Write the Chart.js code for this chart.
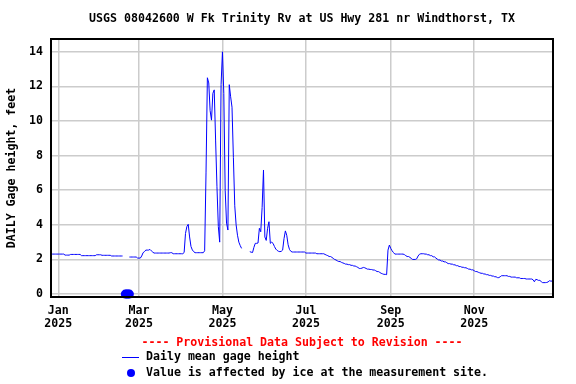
<!DOCTYPE html>
<html>
<head>
<meta charset="utf-8">
<script src="https://cdn.jsdelivr.net/npm/chart.js@4"></script>
<style>
  html, body { margin: 0; padding: 0; background: #fff; }
</style>
</head>
<body>
<canvas id="gageChart" width="576" height="384"></canvas>
<script>
// Day numbers are counted from Jan 1 2025 (= 0)
const firstDay = -5;

// Daily mean gage height (feet), one value per day starting Dec 27 2024
const gageHeight = [
  // Dec 27-31 2024
  2.31, 2.31, 2.31, 2.31, 2.31,
  // Jan
  2.31, 2.31, 2.31, 2.31, 2.31, 2.25, 2.25, 2.25, 2.25, 2.29, 2.29, 2.29, 2.29, 2.29, 2.29, 2.29,
  2.29, 2.22, 2.22, 2.22, 2.22, 2.22, 2.22, 2.22, 2.22, 2.22, 2.22, 2.22, 2.27, 2.27, 2.27,
  // Feb
  2.27, 2.24, 2.24, 2.24, 2.24, 2.24, 2.24, 2.24, 2.2, 2.2, 2.2, 2.2, 2.2, 2.2, 2.2, 2.2, 2.2,
  null, null, null, null, 2.14, 2.14, 2.14, 2.14, 2.14, 2.14, 2.08,
  // Mar
  2.08, 2.08, 2.2, 2.39, 2.45, 2.54, 2.54, 2.54, 2.58, 2.5, 2.43, 2.37, 2.37, 2.37, 2.37, 2.37,
  2.37, 2.37, 2.37, 2.37, 2.37, 2.37, 2.37, 2.39, 2.39, 2.33, 2.33, 2.33, 2.33, 2.33, 2.33,
  // Apr
  2.33, 2.33, 2.4, 3.5, 3.9, 4.03, 3.3, 2.75, 2.55, 2.45, 2.39, 2.39, 2.39, 2.39, 2.39,
  2.39, 2.39, 2.5, 7.0, 12.5, 12.2, 10.6, 10.05, 11.6, 11.8, 8.9, 6.2, 3.9, 3.0, 12.1,
  // May
  14.0, 11.6, 6.0, 4.1, 3.7, 12.1, 11.4, 10.8, 7.9, 5.1, 4.0, 3.4, 3.0, 2.8, 2.64,
  null, null, null, null, null, 2.45, 2.42, 2.4, 2.7, 2.93, 2.93, 2.95, 3.8, 3.6, 5.0, 7.17,
  // Jun
  3.3, 3.1, 3.8, 4.18, 2.93, 3.0, 2.93, 2.75, 2.6, 2.52, 2.47, 2.45, 2.47, 2.54, 3.2,
  3.65, 3.4, 2.85, 2.58, 2.47, 2.43, 2.43, 2.43, 2.43, 2.43, 2.43, 2.43, 2.43, 2.43, 2.43,
  // Jul
  2.37, 2.37, 2.37, 2.37, 2.37, 2.37, 2.37, 2.37, 2.33, 2.33, 2.33, 2.33, 2.33, 2.33, 2.29, 2.25,
  2.22, 2.17, 2.17, 2.12, 2.06, 2.0, 1.97, 1.92, 1.88, 1.88, 1.83, 1.8, 1.77, 1.73, 1.73,
  // Aug
  1.7, 1.7, 1.66, 1.66, 1.62, 1.62, 1.58, 1.54, 1.48, 1.48, 1.5, 1.54, 1.52, 1.48, 1.44, 1.44,
  1.42, 1.42, 1.39, 1.39, 1.35, 1.3, 1.3, 1.25, 1.2, 1.17, 1.14, 1.14, 1.12, 2.54, 2.83,
  // Sep
  2.64, 2.5, 2.4, 2.31, 2.31, 2.31, 2.31, 2.31, 2.31, 2.31, 2.28, 2.22, 2.17, 2.17, 2.12,
  2.06, 2.0, 2.0, 2.0, 2.04, 2.2, 2.3, 2.33, 2.33, 2.33, 2.31, 2.31, 2.27, 2.27, 2.22,
  // Oct
  2.22, 2.15, 2.15, 2.08, 2.02, 1.97, 1.97, 1.91, 1.91, 1.86, 1.86, 1.81, 1.76, 1.76, 1.73, 1.73,
  1.69, 1.69, 1.64, 1.64, 1.59, 1.59, 1.55, 1.55, 1.52, 1.52, 1.48, 1.44, 1.44, 1.4, 1.4,
  // Nov
  1.35, 1.3, 1.3, 1.26, 1.23, 1.2, 1.2, 1.16, 1.16, 1.12, 1.12, 1.08, 1.08, 1.04, 1.04,
  1.0, 1.0, 0.95, 0.95, 1.0, 1.06, 1.06, 1.06, 1.06, 1.06, 1.02, 1.02, 0.98, 0.98, 0.98,
  // Dec
  0.98, 0.94, 0.94, 0.94, 0.9, 0.9, 0.9, 0.9, 0.87, 0.87, 0.87, 0.87, 0.87, 0.83,
  0.71, 0.85, 0.83, 0.79, 0.79, 0.72, 0.66, 0.66, 0.66, 0.67, 0.7, 0.77, 0.75, 0.75
];

// Days flagged as ice-affected (plotted at zero)
const iceDays = [49, 50, 51, 52];
const iceValues = [0, 0, 0, 0];

// Tick positions and labels
const monthTicks = [0, 59, 120, 181, 243, 304];
const monthNames = ['Jan', 'Mar', 'May', 'Jul', 'Sep', 'Nov'];
const yearLabel = '2025';
const heightTicks = [0, 2, 4, 6, 8, 10, 12, 14];

const titleText = 'USGS 08042600 W Fk Trinity Rv at US Hwy 281 nr Windthorst, TX';
const provisionalText = '---- Provisional Data Subject to Revision ----';
const lineLegendText = 'Daily mean gage height';
const iceLegendText = 'Value is affected by ice at the measurement site.';

const monoFont = { family: 'DejaVu Sans Mono', size: 11.6, weight: 'bold', lineHeight: 1.12 };
const fontCss = 'bold 11.6px "DejaVu Sans Mono"';

// Title, frame and legend lines drawn straight on the canvas
const decorPlugin = {
  id: 'decor',
  afterDraw(chart) {
    const ctx = chart.ctx;
    const a = chart.chartArea;
    const cx = (a.left + a.right) / 2;
    ctx.save();
    // frame round the plot
    ctx.strokeStyle = '#000';
    ctx.lineWidth = 2;
    ctx.strokeRect(a.left, a.top, a.right - a.left, a.bottom - a.top);

    ctx.font = fontCss;
    ctx.textBaseline = 'middle';
    ctx.textAlign = 'center';
    ctx.fillStyle = '#000';
    ctx.fillText(titleText, cx, 19);

    ctx.fillStyle = '#ff0000';
    ctx.fillText(provisionalText, cx, 343);

    // legend entries
    ctx.strokeStyle = '#0000ff';
    ctx.lineWidth = 1;
    ctx.beginPath();
    ctx.moveTo(122, 357.5);
    ctx.lineTo(139, 357.5);
    ctx.stroke();
    ctx.fillStyle = '#0000ff';
    ctx.beginPath();
    ctx.arc(131, 373, 4, 0, Math.PI * 2);
    ctx.fill();

    ctx.textAlign = 'left';
    ctx.fillStyle = '#000';
    ctx.fillText(lineLegendText, 146, 357);
    ctx.fillText(iceLegendText, 146, 373);
    ctx.restore();
  }
};

const ctx = document.getElementById('gageChart').getContext('2d');
new Chart(ctx, {
  type: 'line',
  data: {
    datasets: [
      {
        label: lineLegendText,
        data: gageHeight.map((v, i) => ({ x: firstDay + i, y: v })),
        borderColor: '#0000ff',
        borderWidth: 1,
        pointRadius: 0,
        tension: 0,
        spanGaps: false,
        fill: false
      },
      {
        label: iceLegendText,
        data: iceDays.map((d, i) => ({ x: d, y: iceValues[i] })),
        showLine: false,
        pointRadius: 4.5,
        pointBackgroundColor: '#0000ff',
        pointBorderWidth: 0,
        clip: false
      }
    ]
  },
  options: {
    responsive: false,
    animation: false,
    devicePixelRatio: 1,
    layout: { padding: { top: 39, right: 23, left: 0, bottom: 0 } },
    plugins: {
      legend: { display: false },
      title: { display: false },
      tooltip: { enabled: false }
    },
    scales: {
      x: {
        type: 'linear',
        min: -5.3,
        max: 361.6,
        afterBuildTicks: axis => { axis.ticks = monthTicks.map(v => ({ value: v })); },
        afterFit: axis => { axis.height = 87; },
        ticks: {
          autoSkip: false,
          maxRotation: 0,
          padding: 7.5,
          color: '#000',
          font: monoFont,
          callback: value => [monthNames[monthTicks.indexOf(value)], yearLabel]
        },
        grid: { color: '#cccccc', lineWidth: 1.5, drawTicks: false },
        border: { display: false }
      },
      y: {
        min: -0.17,
        max: 14.74,
        afterBuildTicks: axis => { axis.ticks = heightTicks.map(v => ({ value: v })); },
        afterFit: axis => { axis.width = 51; },
        ticks: {
          padding: 8,
          color: '#000',
          font: monoFont
        },
        grid: { color: '#cccccc', lineWidth: 1.5, drawTicks: false },
        border: { display: false },
        title: {
          display: true,
          text: 'DAILY Gage height, feet',
          color: '#000',
          font: monoFont,
          padding: { top: 5, bottom: 0 }
        }
      }
    }
  },
  plugins: [decorPlugin]
});
</script>
</body>
</html>
